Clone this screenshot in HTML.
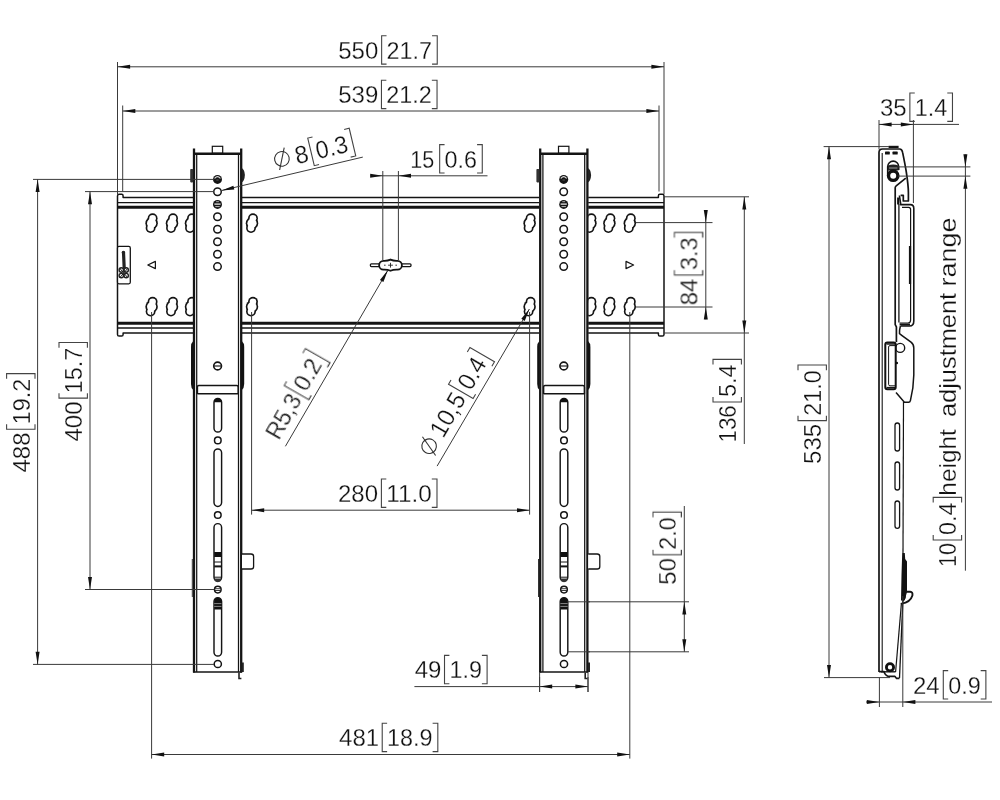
<!DOCTYPE html>
<html><head><meta charset="utf-8"><title>Drawing</title>
<style>html,body{margin:0;padding:0;background:#fff}svg{display:block}</style></head>
<body>
<svg width="1000" height="800" viewBox="0 0 1000 800">
<rect width="1000" height="800" fill="#fff"/>
<path d="M117.5,196 Q117.5,194.3 119.1,194.3 H121.7 Q123.1,194.3 123.1,196 V197.6 H658.4 V196 Q658.4,194.3 659.8,194.3 H662.4 Q664.0,194.3 664.0,196 V334.4 Q664.0,336 662.4,336 H659.8 Q658.4,336 658.4,334.4 V333 H123.1 V334.4 Q123.1,336 121.7,336 H119.1 Q117.5,336 117.5,334.4 Z" fill="#fff" stroke="#141414" stroke-width="1.5" stroke-linejoin="round"/>
<line x1="117.50" y1="202.60" x2="664.00" y2="202.60" stroke="#141414" stroke-width="1.3" />
<line x1="117.50" y1="207.20" x2="664.00" y2="207.20" stroke="#141414" stroke-width="2.9" />
<line x1="117.50" y1="323.30" x2="664.00" y2="323.30" stroke="#141414" stroke-width="2.9" />
<line x1="117.50" y1="328.00" x2="664.00" y2="328.00" stroke="#141414" stroke-width="1.3" />
<circle cx="152.60" cy="218.30" r="4.95" fill="#141414"/>
<circle cx="151.60" cy="223.20" r="6.25" fill="#141414"/>
<circle cx="150.60" cy="228.10" r="4.95" fill="#141414"/>
<circle cx="152.60" cy="218.30" r="3.30" fill="#fff"/>
<circle cx="151.60" cy="223.20" r="4.60" fill="#fff"/>
<circle cx="150.60" cy="228.10" r="3.30" fill="#fff"/>
<circle cx="173.00" cy="218.30" r="4.95" fill="#141414"/>
<circle cx="172.00" cy="223.20" r="6.25" fill="#141414"/>
<circle cx="171.00" cy="228.10" r="4.95" fill="#141414"/>
<circle cx="173.00" cy="218.30" r="3.30" fill="#fff"/>
<circle cx="172.00" cy="223.20" r="4.60" fill="#fff"/>
<circle cx="171.00" cy="228.10" r="3.30" fill="#fff"/>
<circle cx="192.00" cy="218.30" r="4.95" fill="#141414"/>
<circle cx="191.00" cy="223.20" r="6.25" fill="#141414"/>
<circle cx="190.00" cy="228.10" r="4.95" fill="#141414"/>
<circle cx="192.00" cy="218.30" r="3.30" fill="#fff"/>
<circle cx="191.00" cy="223.20" r="4.60" fill="#fff"/>
<circle cx="190.00" cy="228.10" r="3.30" fill="#fff"/>
<circle cx="253.00" cy="218.30" r="4.95" fill="#141414"/>
<circle cx="252.00" cy="223.20" r="6.25" fill="#141414"/>
<circle cx="251.00" cy="228.10" r="4.95" fill="#141414"/>
<circle cx="253.00" cy="218.30" r="3.30" fill="#fff"/>
<circle cx="252.00" cy="223.20" r="4.60" fill="#fff"/>
<circle cx="251.00" cy="228.10" r="3.30" fill="#fff"/>
<circle cx="530.60" cy="218.30" r="4.95" fill="#141414"/>
<circle cx="529.60" cy="223.20" r="6.25" fill="#141414"/>
<circle cx="528.60" cy="228.10" r="4.95" fill="#141414"/>
<circle cx="530.60" cy="218.30" r="3.30" fill="#fff"/>
<circle cx="529.60" cy="223.20" r="4.60" fill="#fff"/>
<circle cx="528.60" cy="228.10" r="3.30" fill="#fff"/>
<circle cx="591.40" cy="218.30" r="4.95" fill="#141414"/>
<circle cx="590.40" cy="223.20" r="6.25" fill="#141414"/>
<circle cx="589.40" cy="228.10" r="4.95" fill="#141414"/>
<circle cx="591.40" cy="218.30" r="3.30" fill="#fff"/>
<circle cx="590.40" cy="223.20" r="4.60" fill="#fff"/>
<circle cx="589.40" cy="228.10" r="3.30" fill="#fff"/>
<circle cx="610.40" cy="218.30" r="4.95" fill="#141414"/>
<circle cx="609.40" cy="223.20" r="6.25" fill="#141414"/>
<circle cx="608.40" cy="228.10" r="4.95" fill="#141414"/>
<circle cx="610.40" cy="218.30" r="3.30" fill="#fff"/>
<circle cx="609.40" cy="223.20" r="4.60" fill="#fff"/>
<circle cx="608.40" cy="228.10" r="3.30" fill="#fff"/>
<circle cx="630.80" cy="218.30" r="4.95" fill="#141414"/>
<circle cx="629.80" cy="223.20" r="6.25" fill="#141414"/>
<circle cx="628.80" cy="228.10" r="4.95" fill="#141414"/>
<circle cx="630.80" cy="218.30" r="3.30" fill="#fff"/>
<circle cx="629.80" cy="223.20" r="4.60" fill="#fff"/>
<circle cx="628.80" cy="228.10" r="3.30" fill="#fff"/>
<circle cx="152.60" cy="301.80" r="4.95" fill="#141414"/>
<circle cx="151.60" cy="306.70" r="6.25" fill="#141414"/>
<circle cx="150.60" cy="311.60" r="4.95" fill="#141414"/>
<circle cx="152.60" cy="301.80" r="3.30" fill="#fff"/>
<circle cx="151.60" cy="306.70" r="4.60" fill="#fff"/>
<circle cx="150.60" cy="311.60" r="3.30" fill="#fff"/>
<circle cx="173.00" cy="301.80" r="4.95" fill="#141414"/>
<circle cx="172.00" cy="306.70" r="6.25" fill="#141414"/>
<circle cx="171.00" cy="311.60" r="4.95" fill="#141414"/>
<circle cx="173.00" cy="301.80" r="3.30" fill="#fff"/>
<circle cx="172.00" cy="306.70" r="4.60" fill="#fff"/>
<circle cx="171.00" cy="311.60" r="3.30" fill="#fff"/>
<circle cx="192.00" cy="301.80" r="4.95" fill="#141414"/>
<circle cx="191.00" cy="306.70" r="6.25" fill="#141414"/>
<circle cx="190.00" cy="311.60" r="4.95" fill="#141414"/>
<circle cx="192.00" cy="301.80" r="3.30" fill="#fff"/>
<circle cx="191.00" cy="306.70" r="4.60" fill="#fff"/>
<circle cx="190.00" cy="311.60" r="3.30" fill="#fff"/>
<circle cx="253.00" cy="301.80" r="4.95" fill="#141414"/>
<circle cx="252.00" cy="306.70" r="6.25" fill="#141414"/>
<circle cx="251.00" cy="311.60" r="4.95" fill="#141414"/>
<circle cx="253.00" cy="301.80" r="3.30" fill="#fff"/>
<circle cx="252.00" cy="306.70" r="4.60" fill="#fff"/>
<circle cx="251.00" cy="311.60" r="3.30" fill="#fff"/>
<circle cx="530.60" cy="301.80" r="4.95" fill="#141414"/>
<circle cx="529.60" cy="306.70" r="6.25" fill="#141414"/>
<circle cx="528.60" cy="311.60" r="4.95" fill="#141414"/>
<circle cx="530.60" cy="301.80" r="3.30" fill="#fff"/>
<circle cx="529.60" cy="306.70" r="4.60" fill="#fff"/>
<circle cx="528.60" cy="311.60" r="3.30" fill="#fff"/>
<circle cx="591.40" cy="301.80" r="4.95" fill="#141414"/>
<circle cx="590.40" cy="306.70" r="6.25" fill="#141414"/>
<circle cx="589.40" cy="311.60" r="4.95" fill="#141414"/>
<circle cx="591.40" cy="301.80" r="3.30" fill="#fff"/>
<circle cx="590.40" cy="306.70" r="4.60" fill="#fff"/>
<circle cx="589.40" cy="311.60" r="3.30" fill="#fff"/>
<circle cx="610.40" cy="301.80" r="4.95" fill="#141414"/>
<circle cx="609.40" cy="306.70" r="6.25" fill="#141414"/>
<circle cx="608.40" cy="311.60" r="4.95" fill="#141414"/>
<circle cx="610.40" cy="301.80" r="3.30" fill="#fff"/>
<circle cx="609.40" cy="306.70" r="4.60" fill="#fff"/>
<circle cx="608.40" cy="311.60" r="3.30" fill="#fff"/>
<circle cx="630.80" cy="301.80" r="4.95" fill="#141414"/>
<circle cx="629.80" cy="306.70" r="6.25" fill="#141414"/>
<circle cx="628.80" cy="311.60" r="4.95" fill="#141414"/>
<circle cx="630.80" cy="301.80" r="3.30" fill="#fff"/>
<circle cx="629.80" cy="306.70" r="4.60" fill="#fff"/>
<circle cx="628.80" cy="311.60" r="3.30" fill="#fff"/>
<rect x="117.5" y="246.4" width="12.8" height="37.4" rx="1.5" fill="#fff" stroke="#141414" stroke-width="1.3"/>
<path d="M123.5,252.5 L124.2,268" stroke="#222" stroke-width="3.2" stroke-linecap="round" fill="none"/>
<circle cx="123.4" cy="252.5" r="1.7" fill="#222"/>
<circle cx="121.3" cy="270" r="2.2" fill="none" stroke="#222" stroke-width="1.4"/>
<circle cx="126.2" cy="270" r="2.2" fill="none" stroke="#222" stroke-width="1.4"/>
<circle cx="121.3" cy="275.6" r="2.2" fill="none" stroke="#222" stroke-width="1.4"/>
<circle cx="126.2" cy="275.6" r="2.2" fill="none" stroke="#222" stroke-width="1.4"/>
<path d="M119.5,268 L128,278 M128,268 L119.5,278" stroke="#222" stroke-width="1" fill="none"/>
<path d="M147.8,265 L155.4,261.4 V268.6 Z" fill="none" stroke="#141414" stroke-width="1.2" stroke-linejoin="round"/>
<path d="M633.6,265 L626,261.4 V268.6 Z" fill="none" stroke="#141414" stroke-width="1.2" stroke-linejoin="round"/>
<rect x="370.4" y="263.84999999999997" width="40.6" height="2.7" rx="1" fill="#fff" stroke="#141414" stroke-width="1.3"/>
<path d="M383.5,260.8 Q387.5,261.0 390.5,259.59999999999997 Q393.5,261.0 397.5,260.8 A4.4,4.4 0 0 1 397.5,269.59999999999997 Q393.5,269.4 390.5,270.8 Q387.5,269.4 383.5,269.59999999999997 A4.4,4.4 0 0 1 383.5,260.8Z" fill="#fff" stroke="#141414" stroke-width="1.8"/>
<path d="M388.1,265.2 H392.9 M390.5,262.8 V267.59999999999997 M384.0,265.2 h1.6 M395.4,265.2 h1.6" stroke="#222" stroke-width="0.9" fill="none"/>
<line x1="117.50" y1="62.00" x2="117.50" y2="194.00" stroke="#3a3a3a" stroke-width="1" />
<line x1="664.00" y1="62.00" x2="664.00" y2="194.00" stroke="#3a3a3a" stroke-width="1" />
<line x1="117.50" y1="66.80" x2="664.00" y2="66.80" stroke="#3a3a3a" stroke-width="1" />
<path d="M117.50,66.80 L130.10,64.80 L130.10,68.80Z" fill="#111"/>
<path d="M664.00,66.80 L651.40,68.80 L651.40,64.80Z" fill="#111"/>
<line x1="122.70" y1="105.50" x2="122.70" y2="191.50" stroke="#3a3a3a" stroke-width="1" />
<line x1="659.00" y1="105.50" x2="659.00" y2="191.50" stroke="#3a3a3a" stroke-width="1" />
<line x1="122.70" y1="111.00" x2="659.00" y2="111.00" stroke="#3a3a3a" stroke-width="1" />
<path d="M122.70,111.00 L135.30,109.00 L135.30,113.00Z" fill="#111"/>
<path d="M659.00,111.00 L646.40,113.00 L646.40,109.00Z" fill="#111"/>
<line x1="33.00" y1="179.40" x2="213.50" y2="179.40" stroke="#3a3a3a" stroke-width="1" />
<line x1="33.00" y1="664.40" x2="213.50" y2="664.40" stroke="#3a3a3a" stroke-width="1" />
<line x1="37.60" y1="179.40" x2="37.60" y2="664.40" stroke="#3a3a3a" stroke-width="1" />
<path d="M37.60,179.40 L39.60,192.00 L35.60,192.00Z" fill="#111"/>
<path d="M37.60,664.40 L35.60,651.80 L39.60,651.80Z" fill="#111"/>
<line x1="85.00" y1="191.60" x2="213.80" y2="191.60" stroke="#3a3a3a" stroke-width="1" />
<line x1="85.00" y1="589.50" x2="214.00" y2="589.50" stroke="#3a3a3a" stroke-width="1" />
<line x1="90.00" y1="191.60" x2="90.00" y2="589.50" stroke="#3a3a3a" stroke-width="1" />
<path d="M90.00,191.60 L92.00,204.20 L88.00,204.20Z" fill="#111"/>
<path d="M90.00,589.50 L88.00,576.90 L92.00,576.90Z" fill="#111"/>
<line x1="151.60" y1="312.00" x2="151.60" y2="758.60" stroke="#3a3a3a" stroke-width="1" />
<line x1="629.80" y1="312.00" x2="629.80" y2="758.60" stroke="#3a3a3a" stroke-width="1" />
<line x1="151.60" y1="754.50" x2="629.80" y2="754.50" stroke="#3a3a3a" stroke-width="1" />
<path d="M151.60,754.50 L164.20,752.50 L164.20,756.50Z" fill="#111"/>
<path d="M629.80,754.50 L617.20,756.50 L617.20,752.50Z" fill="#111"/>
<line x1="251.60" y1="312.00" x2="251.60" y2="514.60" stroke="#3a3a3a" stroke-width="1" />
<line x1="529.60" y1="312.00" x2="529.60" y2="514.60" stroke="#3a3a3a" stroke-width="1" />
<line x1="251.60" y1="510.20" x2="529.60" y2="510.20" stroke="#3a3a3a" stroke-width="1" />
<path d="M251.60,510.20 L264.20,508.20 L264.20,512.20Z" fill="#111"/>
<path d="M529.60,510.20 L517.00,512.20 L517.00,508.20Z" fill="#111"/>
<line x1="539.60" y1="677.00" x2="539.60" y2="692.00" stroke="#3a3a3a" stroke-width="1" />
<line x1="588.00" y1="677.00" x2="588.00" y2="692.00" stroke="#3a3a3a" stroke-width="1" />
<line x1="414.40" y1="686.60" x2="588.00" y2="686.60" stroke="#3a3a3a" stroke-width="1" />
<path d="M539.60,686.60 L552.20,684.60 L552.20,688.60Z" fill="#111"/>
<path d="M588.00,686.60 L575.40,688.60 L575.40,684.60Z" fill="#111"/>
<line x1="567.50" y1="601.80" x2="689.00" y2="601.80" stroke="#3a3a3a" stroke-width="1" />
<line x1="567.50" y1="651.80" x2="689.00" y2="651.80" stroke="#3a3a3a" stroke-width="1" />
<line x1="684.30" y1="506.00" x2="684.30" y2="651.80" stroke="#3a3a3a" stroke-width="1" />
<path d="M684.30,601.80 L686.30,614.40 L682.30,614.40Z" fill="#111"/>
<path d="M684.30,651.80 L682.30,639.20 L686.30,639.20Z" fill="#111"/>
<line x1="636.00" y1="222.60" x2="712.50" y2="222.60" stroke="#3a3a3a" stroke-width="1" />
<line x1="636.00" y1="307.00" x2="712.50" y2="307.00" stroke="#3a3a3a" stroke-width="1" />
<line x1="705.80" y1="210.80" x2="705.80" y2="319.30" stroke="#3a3a3a" stroke-width="1" />
<path d="M705.80,222.60 L703.80,210.00 L707.80,210.00Z" fill="#111"/>
<path d="M705.80,307.00 L707.80,319.60 L703.80,319.60Z" fill="#111"/>
<line x1="664.00" y1="196.80" x2="749.00" y2="196.80" stroke="#3a3a3a" stroke-width="1" />
<line x1="664.00" y1="333.00" x2="749.00" y2="333.00" stroke="#3a3a3a" stroke-width="1" />
<line x1="744.30" y1="196.80" x2="744.30" y2="444.00" stroke="#3a3a3a" stroke-width="1" />
<path d="M744.30,196.80 L746.30,209.40 L742.30,209.40Z" fill="#111"/>
<path d="M744.30,333.00 L742.30,320.40 L746.30,320.40Z" fill="#111"/>
<line x1="382.80" y1="171.00" x2="382.80" y2="260.00" stroke="#3a3a3a" stroke-width="1" />
<line x1="398.40" y1="171.00" x2="398.40" y2="260.00" stroke="#3a3a3a" stroke-width="1" />
<line x1="370.50" y1="175.80" x2="487.50" y2="175.80" stroke="#3a3a3a" stroke-width="1" />
<path d="M382.80,175.80 L370.20,177.80 L370.20,173.80Z" fill="#111"/>
<path d="M398.40,175.80 L411.00,173.80 L411.00,177.80Z" fill="#111"/>
<g transform="translate(0,0)">
<rect x="193" y="149" width="49" height="523" fill="#fff"/>
<rect x="212.3" y="146.3" width="10.4" height="7" fill="#fff" stroke="#141414" stroke-width="1.2"/>
<line x1="194.00" y1="148.60" x2="194.00" y2="672.60" stroke="#141414" stroke-width="2.3" />
<line x1="196.70" y1="155.00" x2="196.70" y2="672.00" stroke="#141414" stroke-width="1.25" />
<line x1="238.50" y1="155.00" x2="238.50" y2="672.00" stroke="#141414" stroke-width="1.25" />
<line x1="241.20" y1="148.60" x2="241.20" y2="672.60" stroke="#141414" stroke-width="2.3" />
<line x1="194.00" y1="153.80" x2="241.00" y2="153.80" stroke="#141414" stroke-width="2.6" />
<line x1="193.00" y1="672.00" x2="242.00" y2="672.00" stroke="#141414" stroke-width="1.6" />
<rect x="190.2" y="169" width="3" height="13.4" rx="0.8" fill="#333"/>
<path d="M241.6,168 Q244.6,169.4 244.9,175 Q244.6,181 241.6,182.4Z" fill="#222"/>
<path d="M193.2,341 Q191,343 191,347 V384 Q191,388 193.2,390Z" fill="#111"/>
<path d="M241.8,341 Q244.2,343 244.2,347 V384 Q244.2,388 241.8,390Z" fill="#111"/>
<circle cx="217.5" cy="179.4" r="4.5" fill="#151515"/>
<path d="M214.9,178.1 Q217.5,175.1 220.1,178.1" fill="none" stroke="#ddd" stroke-width="1.1" stroke-linecap="round"/>
<path d="M216.3,180.0 H218.7" stroke="#777" stroke-width="0.7"/>
<circle cx="217.5" cy="191.8" r="3.75" fill="#fff" stroke="#141414" stroke-width="1.5"/>
<circle cx="217.5" cy="204.4" r="4.5" fill="#151515"/>
<path d="M216.1,201.70000000000002 H218.9" stroke="#ccc" stroke-width="0.8"/>
<path d="M214.4,204.1 H220.6" stroke="#e8e8e8" stroke-width="1.3"/>
<path d="M215.3,206.6 H219.7" stroke="#ccc" stroke-width="0.9"/>
<circle cx="217.5" cy="216.8" r="3.75" fill="#fff" stroke="#141414" stroke-width="1.5"/>
<circle cx="217.5" cy="229.2" r="3.75" fill="#fff" stroke="#141414" stroke-width="1.5"/>
<circle cx="217.5" cy="241.7" r="3.75" fill="#fff" stroke="#141414" stroke-width="1.5"/>
<circle cx="217.5" cy="254.2" r="3.75" fill="#fff" stroke="#141414" stroke-width="1.5"/>
<circle cx="217.5" cy="266.6" r="3.75" fill="#fff" stroke="#141414" stroke-width="1.5"/>
<circle cx="217.6" cy="366" r="3.9" fill="#fff" stroke="#141414" stroke-width="1.6"/>
<path d="M213.7,366 H221.5" stroke="#222" stroke-width="1.2"/>
<path d="M197.4,394 V387 Q197.4,385.6 198.8,385.6 H236.8 Q238.2,385.6 238.2,387 V394" fill="none" stroke="#141414" stroke-width="1.5"/>
<line x1="197.40" y1="393.80" x2="238.20" y2="393.80" stroke="#141414" stroke-width="1.5" />
<rect x="214.00" y="398.4" width="7.6" height="33.60" rx="3.8" fill="#fff" stroke="#141414" stroke-width="1.45"/>
<path d="M214.0,402.2 A3.8,3.8 0 0 1 221.60000000000002,402.2 Z" fill="#111"/>
<circle cx="217.8" cy="440.4" r="3.3" fill="#fff" stroke="#141414" stroke-width="1.5"/>
<rect x="214.00" y="449" width="7.6" height="57.40" rx="3.8" fill="#fff" stroke="#141414" stroke-width="1.45"/>
<circle cx="217.8" cy="515" r="3.3" fill="#fff" stroke="#141414" stroke-width="1.5"/>
<rect x="214.00" y="523.6" width="7.6" height="57.40" rx="3.8" fill="#fff" stroke="#141414" stroke-width="1.45"/>
<rect x="214.20000000000002" y="552" width="7.2" height="5" fill="#111"/>
<line x1="214.20" y1="562.00" x2="221.40" y2="562.00" stroke="#141414" stroke-width="1.0" />
<line x1="214.20" y1="566.40" x2="221.40" y2="566.40" stroke="#141414" stroke-width="2.0" />
<line x1="214.20" y1="577.20" x2="221.40" y2="577.20" stroke="#141414" stroke-width="1.0" />
<path d="M214.20000000000002,578.6 H221.4 A3.6,3.6 0 0 1 214.20000000000002,578.6Z" fill="#333"/>
<circle cx="217.8" cy="589.6" r="3.3" fill="#fff" stroke="#141414" stroke-width="1.5"/>
<path d="M214.9,588.7 H220.70000000000002 M214.9,590.5 H220.70000000000002" stroke="#222" stroke-width="0.9"/>
<rect x="214.00" y="597.6" width="7.6" height="58.40" rx="3.8" fill="#fff" stroke="#141414" stroke-width="1.45"/>
<path d="M214.20000000000002,609.4 V601.4 A3.6,3.6 0 0 1 221.4,601.4 V609.4Z" fill="#111"/>
<line x1="214.20" y1="603.60" x2="221.40" y2="603.60" stroke="#bbb" stroke-width="0.7" />
<line x1="214.20" y1="606.40" x2="221.40" y2="606.40" stroke="#bbb" stroke-width="0.7" />
<circle cx="217.8" cy="664" r="3.6" fill="#fff" stroke="#141414" stroke-width="1.5"/>
<path d="M242,554 H251 Q253.6,554 253.6,556.6 V566.4 Q253.6,569 251,569 H242" fill="#fff" stroke="#141414" stroke-width="1.3"/>
<line x1="192.30" y1="559.00" x2="192.30" y2="597.00" stroke="#333" stroke-width="1.0" />
<rect x="241.6" y="662.5" width="2.2" height="9.5" fill="#222"/>
<path d="M239,672.5 V678.5 H241.4" fill="none" stroke="#222" stroke-width="1.6"/>
</g>
<g transform="translate(346.2,0)">
<rect x="193" y="149" width="49" height="523" fill="#fff"/>
<rect x="212.3" y="146.3" width="10.4" height="7" fill="#fff" stroke="#141414" stroke-width="1.2"/>
<line x1="194.00" y1="148.60" x2="194.00" y2="672.60" stroke="#141414" stroke-width="2.3" />
<line x1="196.70" y1="155.00" x2="196.70" y2="672.00" stroke="#141414" stroke-width="1.25" />
<line x1="238.50" y1="155.00" x2="238.50" y2="672.00" stroke="#141414" stroke-width="1.25" />
<line x1="241.20" y1="148.60" x2="241.20" y2="672.60" stroke="#141414" stroke-width="2.3" />
<line x1="194.00" y1="153.80" x2="241.00" y2="153.80" stroke="#141414" stroke-width="2.6" />
<line x1="193.00" y1="672.00" x2="242.00" y2="672.00" stroke="#141414" stroke-width="1.6" />
<rect x="190.2" y="169" width="3" height="13.4" rx="0.8" fill="#333"/>
<path d="M241.6,168 Q244.6,169.4 244.9,175 Q244.6,181 241.6,182.4Z" fill="#222"/>
<path d="M193.2,341 Q191,343 191,347 V384 Q191,388 193.2,390Z" fill="#111"/>
<path d="M241.8,341 Q244.2,343 244.2,347 V384 Q244.2,388 241.8,390Z" fill="#111"/>
<circle cx="217.5" cy="179.4" r="4.5" fill="#151515"/>
<path d="M214.9,178.1 Q217.5,175.1 220.1,178.1" fill="none" stroke="#ddd" stroke-width="1.1" stroke-linecap="round"/>
<path d="M216.3,180.0 H218.7" stroke="#777" stroke-width="0.7"/>
<circle cx="217.5" cy="191.8" r="3.75" fill="#fff" stroke="#141414" stroke-width="1.5"/>
<circle cx="217.5" cy="204.4" r="4.5" fill="#151515"/>
<path d="M216.1,201.70000000000002 H218.9" stroke="#ccc" stroke-width="0.8"/>
<path d="M214.4,204.1 H220.6" stroke="#e8e8e8" stroke-width="1.3"/>
<path d="M215.3,206.6 H219.7" stroke="#ccc" stroke-width="0.9"/>
<circle cx="217.5" cy="216.8" r="3.75" fill="#fff" stroke="#141414" stroke-width="1.5"/>
<circle cx="217.5" cy="229.2" r="3.75" fill="#fff" stroke="#141414" stroke-width="1.5"/>
<circle cx="217.5" cy="241.7" r="3.75" fill="#fff" stroke="#141414" stroke-width="1.5"/>
<circle cx="217.5" cy="254.2" r="3.75" fill="#fff" stroke="#141414" stroke-width="1.5"/>
<circle cx="217.5" cy="266.6" r="3.75" fill="#fff" stroke="#141414" stroke-width="1.5"/>
<circle cx="217.6" cy="366" r="3.9" fill="#fff" stroke="#141414" stroke-width="1.6"/>
<path d="M213.7,366 H221.5" stroke="#222" stroke-width="1.2"/>
<path d="M197.4,394 V387 Q197.4,385.6 198.8,385.6 H236.8 Q238.2,385.6 238.2,387 V394" fill="none" stroke="#141414" stroke-width="1.5"/>
<line x1="197.40" y1="393.80" x2="238.20" y2="393.80" stroke="#141414" stroke-width="1.5" />
<rect x="214.00" y="398.4" width="7.6" height="33.60" rx="3.8" fill="#fff" stroke="#141414" stroke-width="1.45"/>
<path d="M214.0,402.2 A3.8,3.8 0 0 1 221.60000000000002,402.2 Z" fill="#111"/>
<circle cx="217.8" cy="440.4" r="3.3" fill="#fff" stroke="#141414" stroke-width="1.5"/>
<rect x="214.00" y="449" width="7.6" height="57.40" rx="3.8" fill="#fff" stroke="#141414" stroke-width="1.45"/>
<circle cx="217.8" cy="515" r="3.3" fill="#fff" stroke="#141414" stroke-width="1.5"/>
<rect x="214.00" y="523.6" width="7.6" height="57.40" rx="3.8" fill="#fff" stroke="#141414" stroke-width="1.45"/>
<rect x="214.20000000000002" y="552" width="7.2" height="5" fill="#111"/>
<line x1="214.20" y1="562.00" x2="221.40" y2="562.00" stroke="#141414" stroke-width="1.0" />
<line x1="214.20" y1="566.40" x2="221.40" y2="566.40" stroke="#141414" stroke-width="2.0" />
<line x1="214.20" y1="577.20" x2="221.40" y2="577.20" stroke="#141414" stroke-width="1.0" />
<path d="M214.20000000000002,578.6 H221.4 A3.6,3.6 0 0 1 214.20000000000002,578.6Z" fill="#333"/>
<circle cx="217.8" cy="589.6" r="3.3" fill="#fff" stroke="#141414" stroke-width="1.5"/>
<path d="M214.9,588.7 H220.70000000000002 M214.9,590.5 H220.70000000000002" stroke="#222" stroke-width="0.9"/>
<rect x="214.00" y="597.6" width="7.6" height="58.40" rx="3.8" fill="#fff" stroke="#141414" stroke-width="1.45"/>
<path d="M214.20000000000002,609.4 V601.4 A3.6,3.6 0 0 1 221.4,601.4 V609.4Z" fill="#111"/>
<line x1="214.20" y1="603.60" x2="221.40" y2="603.60" stroke="#bbb" stroke-width="0.7" />
<line x1="214.20" y1="606.40" x2="221.40" y2="606.40" stroke="#bbb" stroke-width="0.7" />
<circle cx="217.8" cy="664" r="3.6" fill="#fff" stroke="#141414" stroke-width="1.5"/>
<path d="M242,554 H251 Q253.6,554 253.6,556.6 V566.4 Q253.6,569 251,569 H242" fill="#fff" stroke="#141414" stroke-width="1.3"/>
<line x1="192.30" y1="559.00" x2="192.30" y2="597.00" stroke="#333" stroke-width="1.0" />
<rect x="241.6" y="662.5" width="2.2" height="9.5" fill="#222"/>
<path d="M239,672.5 V678.5 H241.4" fill="none" stroke="#222" stroke-width="1.6"/>
</g>
<line x1="193.00" y1="179.40" x2="214.00" y2="179.40" stroke="#3a3a3a" stroke-width="1" />
<line x1="193.00" y1="191.60" x2="214.00" y2="191.60" stroke="#3a3a3a" stroke-width="1" />
<line x1="193.00" y1="589.50" x2="214.40" y2="589.50" stroke="#3a3a3a" stroke-width="1" />
<line x1="193.00" y1="664.40" x2="214.00" y2="664.40" stroke="#3a3a3a" stroke-width="1" />
<line x1="567.50" y1="601.80" x2="590.00" y2="601.80" stroke="#3a3a3a" stroke-width="1" />
<line x1="567.50" y1="651.80" x2="590.00" y2="651.80" stroke="#3a3a3a" stroke-width="1" />
<line x1="539.60" y1="672.60" x2="539.60" y2="692.00" stroke="#3a3a3a" stroke-width="1" />
<line x1="588.00" y1="672.60" x2="588.00" y2="692.00" stroke="#3a3a3a" stroke-width="1" />
<line x1="221.60" y1="190.50" x2="362.80" y2="157.10" stroke="#3a3a3a" stroke-width="1" />
<path d="M221.60,190.50 L233.40,185.66 L234.32,189.55Z" fill="#111"/>
<line x1="388.00" y1="270.00" x2="285.40" y2="446.30" stroke="#3a3a3a" stroke-width="1" />
<path d="M388.00,270.00 L383.39,281.90 L379.93,279.88Z" fill="#111"/>
<line x1="529.40" y1="309.00" x2="437.10" y2="466.10" stroke="#3a3a3a" stroke-width="1" />
<path d="M529.40,309.00 L524.75,320.88 L521.30,318.86Z" fill="#111"/>
<path d="M879,672 V152.5 Q879,149 882.5,149 H899.6 Q902,149 902.6,152.4 Q905,164 906.3,172 Q908.4,186 908.4,192.5 V201 H903.3 V195.3 H900.6" fill="none" stroke="#141414" stroke-width="1.7" stroke-linejoin="round"/>
<line x1="882.20" y1="153.00" x2="882.20" y2="672.00" stroke="#141414" stroke-width="1.1" />
<line x1="888.60" y1="146.90" x2="898.60" y2="146.90" stroke="#141414" stroke-width="2.2" />
<rect x="885" y="151.6" width="4.8" height="3" rx="0.6" fill="#111"/>
<rect x="892.5" y="151.6" width="5.2" height="3" rx="0.6" fill="#111"/>
<path d="M887.7,176 V166.6 A5.5,5.5 0 0 1 898.7,166.6 V170" fill="#fff" stroke="#141414" stroke-width="1.6"/>
<path d="M888,165.6 Q893.2,163.4 898.4,165.6 V170.6 H888Z" fill="#222"/>
<line x1="889.00" y1="168.00" x2="897.40" y2="168.00" stroke="#ccc" stroke-width="0.7" />
<circle cx="893.2" cy="175.7" r="4.7" fill="#fff" stroke="#111" stroke-width="3.4"/>
<path d="M905.8,178.2 L896.2,185.8 Q895.2,186.6 895.2,187.8 V324.5 L896.4,327 V342" fill="none" stroke="#141414" stroke-width="1.7"/>
<line x1="898.90" y1="204.00" x2="898.90" y2="322.40" stroke="#141414" stroke-width="1.3" />
<path d="M898.2,197.5 V204.5" stroke="#111" stroke-width="2.2" fill="none"/>
<path d="M899.4,195.5 L900.8,204.6 H910.4 Q913.8,204.6 913.8,208.4 V321 Q913.8,326 909.5,326 H900.6" fill="none" stroke="#141414" stroke-width="1.6"/>
<path d="M902,207.4 H908.6 Q910.6,207.4 910.6,209.6 V320 Q910.6,323 908,323 H899.6" fill="none" stroke="#141414" stroke-width="1.2"/>
<line x1="899.60" y1="324.50" x2="910.00" y2="324.50" stroke="#141414" stroke-width="2.0" />
<line x1="910.00" y1="246.00" x2="910.00" y2="284.00" stroke="#141414" stroke-width="2.2" />
<path d="M900.4,326 Q899.3,330 899.5,333.6 L902.4,335.8 L911,342.2 Q913.8,344.4 913.8,348 V375 Q913.6,388 910.4,400.6 Q910,402.2 908.6,402.2 H904.4 L896,392.6" fill="none" stroke="#141414" stroke-width="1.5" stroke-linejoin="round"/>
<circle cx="900.2" cy="347.9" r="4.5" fill="#fff" stroke="#141414" stroke-width="1.4"/>
<rect x="885.3" y="342.6" width="10.4" height="46.6" rx="2" fill="#fff" stroke="#111" stroke-width="2"/>
<path d="M895,345.6 H890 Q888.6,345.6 888.6,347 V384.4 Q888.6,385.8 890,385.8 H895" fill="none" stroke="#141414" stroke-width="1.0"/>
<line x1="886.50" y1="344.00" x2="895.00" y2="344.00" stroke="#141414" stroke-width="1.4" />
<line x1="886.50" y1="387.60" x2="895.00" y2="387.60" stroke="#141414" stroke-width="1.4" />
<circle cx="896.8" cy="363" r="1.3" fill="#111"/>
<line x1="903.50" y1="402.00" x2="903.00" y2="553.00" stroke="#141414" stroke-width="1.2" />
<rect x="895" y="423" width="4.6" height="28" rx="2.3" fill="#fff" stroke="#141414" stroke-width="1.3"/>
<rect x="895" y="462" width="4.6" height="28" rx="2.3" fill="#fff" stroke="#141414" stroke-width="1.3"/>
<rect x="895" y="501" width="4.6" height="27.399999999999977" rx="2.3" fill="#fff" stroke="#141414" stroke-width="1.3"/>
<path d="M902.2,553 H904.8 L905.2,559 L907,561.5 V592 L904.6,600.5 H901 L901.5,575Z" fill="#111"/>
<path d="M906.5,591.8 H910.2 Q913,592 912.4,595.6 Q910.4,602.4 901.6,603.6" fill="none" stroke="#141414" stroke-width="1.9" stroke-linecap="round"/>
<path d="M905.6,593.2 Q906,599 902.8,601.6" fill="none" stroke="#141414" stroke-width="1.0"/>
<line x1="903.00" y1="598.00" x2="899.50" y2="678.00" stroke="#141414" stroke-width="1.3" />
<line x1="901.40" y1="603.50" x2="895.60" y2="672.00" stroke="#141414" stroke-width="1.2" />
<path d="M879,671.6 H884 Q884.6,674.6 888,676.4 H895 L896.6,678.4 H899.5" fill="none" stroke="#141414" stroke-width="1.6" stroke-linejoin="round"/>
<line x1="881.00" y1="671.80" x2="895.60" y2="671.80" stroke="#141414" stroke-width="1.4" />
<circle cx="890" cy="667.2" r="3.6" fill="#fff" stroke="#111" stroke-width="2.8"/>
<line x1="879.00" y1="120.00" x2="879.00" y2="149.50" stroke="#3a3a3a" stroke-width="1" />
<line x1="913.40" y1="120.00" x2="913.40" y2="203.00" stroke="#3a3a3a" stroke-width="1" />
<line x1="879.00" y1="124.40" x2="959.00" y2="124.40" stroke="#3a3a3a" stroke-width="1" />
<path d="M879.00,124.40 L891.60,122.40 L891.60,126.40Z" fill="#111"/>
<path d="M913.40,124.40 L900.80,126.40 L900.80,122.40Z" fill="#111"/>
<line x1="823.60" y1="146.60" x2="889.00" y2="146.60" stroke="#3a3a3a" stroke-width="1" />
<line x1="824.00" y1="677.60" x2="890.00" y2="677.60" stroke="#3a3a3a" stroke-width="1" />
<line x1="829.00" y1="146.60" x2="829.00" y2="677.60" stroke="#3a3a3a" stroke-width="1" />
<path d="M829.00,146.60 L831.00,159.20 L827.00,159.20Z" fill="#111"/>
<path d="M829.00,677.60 L827.00,665.00 L831.00,665.00Z" fill="#111"/>
<line x1="898.00" y1="166.90" x2="970.40" y2="166.90" stroke="#3a3a3a" stroke-width="1" />
<line x1="898.00" y1="176.10" x2="970.40" y2="176.10" stroke="#3a3a3a" stroke-width="1" />
<line x1="965.40" y1="154.50" x2="965.40" y2="570.70" stroke="#3a3a3a" stroke-width="1" />
<path d="M965.40,166.90 L963.40,154.30 L967.40,154.30Z" fill="#111"/>
<path d="M965.40,176.10 L967.40,188.70 L963.40,188.70Z" fill="#111"/>
<line x1="879.40" y1="677.60" x2="879.40" y2="707.00" stroke="#3a3a3a" stroke-width="1" />
<line x1="902.80" y1="596.00" x2="902.80" y2="707.00" stroke="#3a3a3a" stroke-width="1" />
<line x1="866.00" y1="702.00" x2="992.00" y2="702.00" stroke="#3a3a3a" stroke-width="1" />
<path d="M879.40,702.00 L866.80,704.00 L866.80,700.00Z" fill="#111"/>
<path d="M902.80,702.00 L915.40,700.00 L915.40,704.00Z" fill="#111"/>
<g font-family="'Liberation Sans', sans-serif" fill="#111" stroke="#fff" stroke-width="0.25" style="opacity:0.999">
<g transform="translate(339.20,58.70) rotate(0)">
<text transform="translate(-0.96,0) scale(1,1.03)" font-size="24.0">550</text>
<path d="M47.34,-23 H42.44 V5.4 H47.34" fill="none" stroke="#444" stroke-width="1.1"/>
<text transform="translate(47.34,0) scale(1,1.03)" font-size="24.0" textLength="45.50" lengthAdjust="spacingAndGlyphs">21.7</text>
<path d="M92.84,-23 H98.04 V5.4 H92.84" fill="none" stroke="#444" stroke-width="1.1"/>
</g>
<g transform="translate(339.20,103.20) rotate(0)">
<text transform="translate(-0.96,0) scale(1,1.03)" font-size="24.0">539</text>
<path d="M47.15,-23 H42.25 V5.4 H47.15" fill="none" stroke="#444" stroke-width="1.1"/>
<text transform="translate(47.15,0) scale(1,1.03)" font-size="24.0" textLength="45.50" lengthAdjust="spacingAndGlyphs">21.2</text>
<path d="M92.64,-23 H97.84 V5.4 H92.64" fill="none" stroke="#444" stroke-width="1.1"/>
</g>
<g transform="translate(412.00,167.60) rotate(0)">
<text transform="translate(-1.65,0) scale(1,1.03)" font-size="24.0" textLength="24.03" lengthAdjust="spacingAndGlyphs">15</text>
<path d="M32.57,-23 H27.67 V5.4 H32.57" fill="none" stroke="#444" stroke-width="1.1"/>
<text transform="translate(32.57,0) scale(1,1.03)" font-size="24.0" textLength="32.50" lengthAdjust="spacingAndGlyphs">0.6</text>
<path d="M65.07,-23 H70.27 V5.4 H65.07" fill="none" stroke="#444" stroke-width="1.1"/>
</g>
<g transform="translate(339.20,502.00) rotate(0)">
<text transform="translate(-1.21,0) scale(1,1.03)" font-size="24.0">280</text>
<path d="M47.10,-23 H42.20 V5.4 H47.10" fill="none" stroke="#444" stroke-width="1.1"/>
<text transform="translate(47.10,0) scale(1,1.03)" font-size="24.0" textLength="45.50" lengthAdjust="spacingAndGlyphs">11.0</text>
<path d="M92.59,-23 H97.79 V5.4 H92.59" fill="none" stroke="#444" stroke-width="1.1"/>
</g>
<g transform="translate(415.20,678.40) rotate(0)">
<text transform="translate(-0.55,0) scale(1,1.03)" font-size="24.0">49</text>
<path d="M34.21,-23 H29.31 V5.4 H34.21" fill="none" stroke="#444" stroke-width="1.1"/>
<text transform="translate(34.21,0) scale(1,1.03)" font-size="24.0" textLength="32.50" lengthAdjust="spacingAndGlyphs">1.9</text>
<path d="M66.70,-23 H71.90 V5.4 H66.70" fill="none" stroke="#444" stroke-width="1.1"/>
</g>
<g transform="translate(339.60,746.20) rotate(0)">
<text transform="translate(-0.55,0) scale(1,1.03)" font-size="24.0">481</text>
<path d="M47.52,-23 H42.62 V5.4 H47.52" fill="none" stroke="#444" stroke-width="1.1"/>
<text transform="translate(47.52,0) scale(1,1.03)" font-size="24.0" textLength="45.50" lengthAdjust="spacingAndGlyphs">18.9</text>
<path d="M93.02,-23 H98.22 V5.4 H93.02" fill="none" stroke="#444" stroke-width="1.1"/>
</g>
<g transform="translate(880.80,116.00) rotate(0)">
<text transform="translate(-0.91,0) scale(1,1.03)" font-size="24.0">35</text>
<path d="M33.97,-23 H29.07 V5.4 H33.97" fill="none" stroke="#444" stroke-width="1.1"/>
<text transform="translate(33.97,0) scale(1,1.03)" font-size="24.0" textLength="32.50" lengthAdjust="spacingAndGlyphs">1.4</text>
<path d="M66.47,-23 H71.67 V5.4 H66.47" fill="none" stroke="#444" stroke-width="1.1"/>
</g>
<g transform="translate(914.20,693.60) rotate(0)">
<text transform="translate(-1.21,0) scale(1,1.03)" font-size="24.0">24</text>
<path d="M33.99,-23 H29.09 V5.4 H33.99" fill="none" stroke="#444" stroke-width="1.1"/>
<text transform="translate(33.99,0) scale(1,1.03)" font-size="24.0" textLength="32.50" lengthAdjust="spacingAndGlyphs">0.9</text>
<path d="M66.48,-23 H71.68 V5.4 H66.48" fill="none" stroke="#444" stroke-width="1.1"/>
</g>
<g transform="translate(29.60,472.00) rotate(-90)">
<text transform="translate(-0.55,0) scale(1,1.03)" font-size="24.0">488</text>
<path d="M47.65,-23 H42.75 V5.4 H47.65" fill="none" stroke="#444" stroke-width="1.1"/>
<text transform="translate(47.65,0) scale(1,1.03)" font-size="24.0" textLength="45.50" lengthAdjust="spacingAndGlyphs">19.2</text>
<path d="M93.15,-23 H98.35 V5.4 H93.15" fill="none" stroke="#444" stroke-width="1.1"/>
</g>
<g transform="translate(82.00,441.00) rotate(-90)">
<text transform="translate(-0.55,0) scale(1,1.03)" font-size="24.0">400</text>
<path d="M47.75,-23 H42.85 V5.4 H47.75" fill="none" stroke="#444" stroke-width="1.1"/>
<text transform="translate(47.75,0) scale(1,1.03)" font-size="24.0" textLength="45.50" lengthAdjust="spacingAndGlyphs">15.7</text>
<path d="M93.25,-23 H98.45 V5.4 H93.25" fill="none" stroke="#444" stroke-width="1.1"/>
</g>
<g transform="translate(697.40,304.30) rotate(-90)">
<text transform="translate(-1.04,0) scale(1,1.03)" font-size="24.0">84</text>
<path d="M34.15,-23 H29.25 V5.4 H34.15" fill="none" stroke="#444" stroke-width="1.1"/>
<text transform="translate(34.15,0) scale(1,1.03)" font-size="24.0" textLength="32.50" lengthAdjust="spacingAndGlyphs">3.3</text>
<path d="M66.65,-23 H71.85 V5.4 H66.65" fill="none" stroke="#444" stroke-width="1.1"/>
</g>
<g transform="translate(736.00,440.80) rotate(-90)">
<text transform="translate(-1.70,0) scale(1,1.03)" font-size="24.0" textLength="37.24" lengthAdjust="spacingAndGlyphs">136</text>
<path d="M43.76,-23 H38.86 V5.4 H43.76" fill="none" stroke="#444" stroke-width="1.1"/>
<text transform="translate(43.76,0) scale(1,1.03)" font-size="24.0" textLength="32.50" lengthAdjust="spacingAndGlyphs">5.4</text>
<path d="M76.25,-23 H81.45 V5.4 H76.25" fill="none" stroke="#444" stroke-width="1.1"/>
</g>
<g transform="translate(676.00,583.80) rotate(-90)">
<text transform="translate(-0.96,0) scale(1,1.03)" font-size="24.0">50</text>
<path d="M34.00,-23 H29.10 V5.4 H34.00" fill="none" stroke="#444" stroke-width="1.1"/>
<text transform="translate(34.00,0) scale(1,1.03)" font-size="24.0" textLength="32.50" lengthAdjust="spacingAndGlyphs">2.0</text>
<path d="M66.49,-23 H71.69 V5.4 H66.49" fill="none" stroke="#444" stroke-width="1.1"/>
</g>
<g transform="translate(821.00,463.00) rotate(-90)">
<text transform="translate(-0.96,0) scale(1,1.03)" font-size="24.0">535</text>
<path d="M47.27,-23 H42.37 V5.4 H47.27" fill="none" stroke="#444" stroke-width="1.1"/>
<text transform="translate(47.27,0) scale(1,1.03)" font-size="24.0" textLength="45.50" lengthAdjust="spacingAndGlyphs">21.0</text>
<path d="M92.77,-23 H97.97 V5.4 H92.77" fill="none" stroke="#444" stroke-width="1.1"/>
</g>
<g transform="translate(956.20,565.40) rotate(-90)">
<text transform="translate(-1.65,0) scale(1,1.03)" font-size="24.0" textLength="24.03" lengthAdjust="spacingAndGlyphs">10</text>
<path d="M30.34,-23 H25.44 V5.4 H30.34" fill="none" stroke="#444" stroke-width="1.1"/>
<text transform="translate(30.34,0) scale(1,1.03)" font-size="24.0" textLength="32.50" lengthAdjust="spacingAndGlyphs">0.4</text>
<path d="M62.83,-23 H68.03 V5.4 H62.83" fill="none" stroke="#444" stroke-width="1.1"/>
<text transform="translate(69.71,0) scale(1,1.03)" font-size="24.0" textLength="66.57" lengthAdjust="spacingAndGlyphs">height</text>
<text transform="translate(148.32,0) scale(1,1.03)" font-size="24.0" textLength="124.27" lengthAdjust="spacingAndGlyphs">adjustment</text>
<text transform="translate(279.01,0) scale(1,1.03)" font-size="24.0" textLength="68.99" lengthAdjust="spacingAndGlyphs">range</text>
</g>
<g transform="translate(276.64,169.06) rotate(-13.3)">
<circle cx="7.5" cy="-8.7" r="7.3" fill="none" stroke="#333" stroke-width="1.1"/>
<line x1="2.7" y1="1.6" x2="12.3" y2="-19.2" stroke="#333" stroke-width="1.1"/>
<text transform="translate(20.80,0) scale(1,1.03)" font-size="24.0">8</text>
<path d="M42.30,-23 H37.40 V5.4 H42.30" fill="none" stroke="#444" stroke-width="1.1"/>
<text transform="translate(42.30,0) scale(1,1.03)" font-size="24.0" textLength="32.50" lengthAdjust="spacingAndGlyphs">0.3</text>
<path d="M74.80,-23 H80.00 V5.4 H74.80" fill="none" stroke="#444" stroke-width="1.1"/>
</g>
<g transform="translate(279.78,439.62) rotate(-60.2)">
<text transform="translate(-1.85,0) scale(1,1.03)" font-size="24.0" textLength="47.65" lengthAdjust="spacingAndGlyphs">R5,3</text>
<path d="M54.01,-23 H49.11 V5.4 H54.01" fill="none" stroke="#444" stroke-width="1.1"/>
<text transform="translate(54.01,0) scale(1,1.03)" font-size="24.0" textLength="32.50" lengthAdjust="spacingAndGlyphs">0.2</text>
<path d="M86.51,-23 H91.71 V5.4 H86.51" fill="none" stroke="#444" stroke-width="1.1"/>
</g>
<g transform="translate(432.87,457.05) rotate(-59.85)">
<circle cx="7.5" cy="-8.7" r="7.3" fill="none" stroke="#333" stroke-width="1.1"/>
<line x1="2.7" y1="1.6" x2="12.3" y2="-19.2" stroke="#333" stroke-width="1.1"/>
<text transform="translate(20.80,0) scale(1,1.03)" font-size="24.0">10,5</text>
<path d="M75.70,-23 H70.80 V5.4 H75.70" fill="none" stroke="#444" stroke-width="1.1"/>
<text transform="translate(75.70,0) scale(1,1.03)" font-size="24.0" textLength="32.50" lengthAdjust="spacingAndGlyphs">0.4</text>
<path d="M108.20,-23 H113.40 V5.4 H108.20" fill="none" stroke="#444" stroke-width="1.1"/>
</g>
</g>
</svg>
</body></html>
